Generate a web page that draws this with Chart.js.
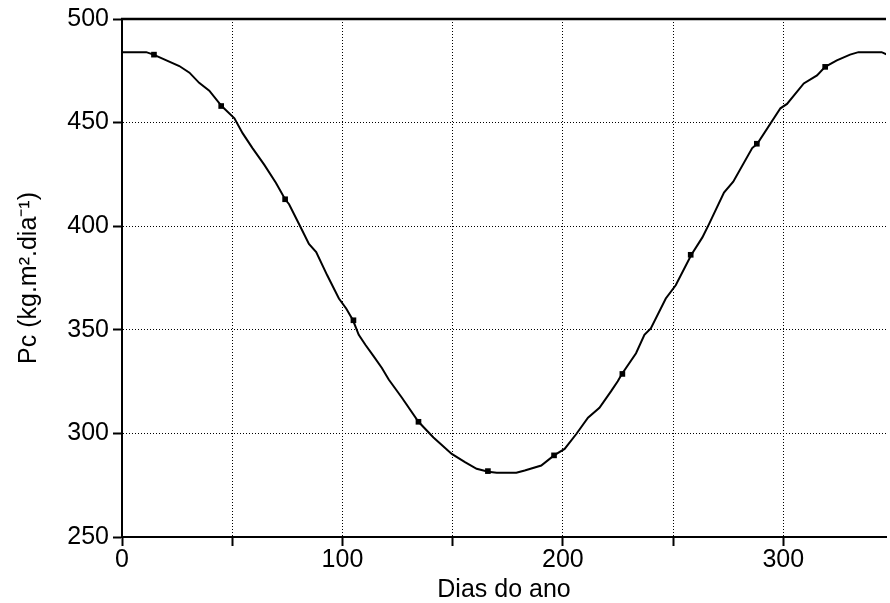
<!DOCTYPE html>
<html>
<head>
<meta charset="utf-8">
<script src="https://cdn.jsdelivr.net/npm/chart.js@4/dist/chart.umd.min.js"></script>
<style>
  body { margin: 0; background: #fff; }
  #box { width: 890px; height: 603px; }
</style>
</head>
<body>
<div id="box"><canvas id="graficoPc"></canvas></div>
<script>
// dados (dia do ano, Pc)
const dias = [0, 11, 14.3, 26, 30.6, 35, 39.6, 45.2, 51, 54.7, 59.2, 64.5, 69.8, 74, 75.8, 81.1, 84.8, 88.1, 93.1, 98.4,
  101.7, 104.8, 107.4, 110.4, 114.2, 117.9, 121, 127, 134.5, 141.3, 149.6, 155.6, 160.9, 166.2, 170, 178.9, 182.7, 190.2,
  196, 200.8, 206.1, 211.4, 216.6, 221.9, 224.9, 226.8, 233.2, 237, 239.9, 246.7, 251.2, 258.3, 263.3, 266.3, 273.1,
  277.3, 285.9, 288.2, 298.7, 301.7, 309.3, 315.3, 319, 324.3, 330.3, 334.1, 344.6, 346.9];
const pc = [484, 484, 482.8, 477.3, 474.1, 469.2, 465.4, 458, 452.1, 444.9, 437.7, 429.7, 421, 413, 410.6, 399.4, 391.4, 387.5, 376.3, 365.1,
  360.3, 354.6, 347.6, 342.8, 337.2, 331.6, 326, 317.2, 305.6, 298, 290.1, 286.1, 282.9, 281.5, 281, 281, 282.1, 284.5,
  289.4, 292.5, 299.7, 307.6, 312.4, 320.4, 325.2, 328.7, 338.7, 347.6, 350.7, 365.1, 371.5, 386.2, 394.6, 401, 416.2,
  421.5, 437.7, 439.8, 456.9, 459, 468.9, 472.8, 476.9, 480, 482.8, 484, 484, 482.9];

// dias marcados com quadrados
const diasMarc = [14.5, 45, 74, 105, 134.5, 166, 196, 227, 258, 288, 319];
const pcMarc = [482.8, 458, 413, 354.6, 305.6, 281.8, 289.4, 328.7, 386.2, 439.8, 476.9];

// rótulos dos eixos
const xRotulos = [0, 100, 200, 300];
const yRotulos = [250, 300, 350, 400, 450, 500];

const fonte = "'Liberation Sans', Arial, sans-serif";

// linha grossa no topo da área do gráfico
const bordaTopo = {
  id: 'bordaTopo',
  afterDraw(chart) {
    const { ctx, chartArea } = chart;
    ctx.save();
    ctx.strokeStyle = '#000';
    ctx.lineWidth = 2.5;
    ctx.beginPath();
    ctx.moveTo(chartArea.left - 1, chartArea.top);
    ctx.lineTo(chartArea.right, chartArea.top);
    ctx.stroke();
    ctx.restore();
  }
};

const data = {
  datasets: [{
    label: 'Pc',
    data: dias.map((d, i) => ({ x: d, y: pc[i] })),
    borderColor: '#000',
    borderWidth: 2,
    pointRadius: 0,
    tension: 0,
    order: 2
  }, {
    label: 'marcas',
    data: diasMarc.map((d, i) => ({ x: d, y: pcMarc[i] })),
    showLine: false,
    pointStyle: 'rect',
    pointRadius: 4,
    pointBorderWidth: 0,
    pointBackgroundColor: '#000',
    order: 1
  }]
};

const config = {
  type: 'line',
  data: data,
  options: {
    responsive: true,
    maintainAspectRatio: false,
    animation: false,
    layout: { padding: { top: 15, right: 0, left: 0, bottom: 0 } },
    plugins: { legend: { display: false }, tooltip: { enabled: false } },
    scales: {
      x: {
        type: 'linear',
        min: 0,
        max: 346.6,
        afterFit(s) { s.height = 66; },
        ticks: {
          stepSize: 50,
          includeBounds: false,
          autoSkip: false,
          maxRotation: 0,
          padding: 2,
          color: '#000',
          font: { family: fonte, size: 25, lineHeight: 1 },
          callback: v => xRotulos.includes(v) ? String(v) : ''
        },
        grid: { color: '#000', lineWidth: 1, tickLength: 9, tickColor: '#000', tickWidth: 2 },
        border: { display: true, color: '#000', width: 2, dash: [1, 2] },
        title: {
          display: true,
          text: 'Dias do ano',
          color: '#000',
          padding: 0,
          font: { family: fonte, size: 25, lineHeight: 1 }
        }
      },
      y: {
        min: 250,
        max: 500,
        afterFit(s) { s.width = 122; },
        ticks: {
          stepSize: 50,
          padding: 4,
          color: '#000',
          font: { family: fonte, size: 25 },
          callback: v => yRotulos.includes(v) ? String(v) : ''
        },
        grid: { color: '#000', lineWidth: 1, tickLength: 9, tickColor: '#000', tickWidth: 2 },
        border: { display: true, color: '#000', width: 2, dash: [1, 2] },
        title: {
          display: true,
          text: 'Pc (kg.m².dia⁻¹)',
          color: '#000',
          padding: { top: 17, bottom: 0 },
          font: { family: fonte, size: 25, lineHeight: 1 }
        }
      }
    }
  },
  plugins: [bordaTopo]
};

const ctx = document.getElementById('graficoPc').getContext('2d');
new Chart(ctx, config);
</script>
</body>
</html>
